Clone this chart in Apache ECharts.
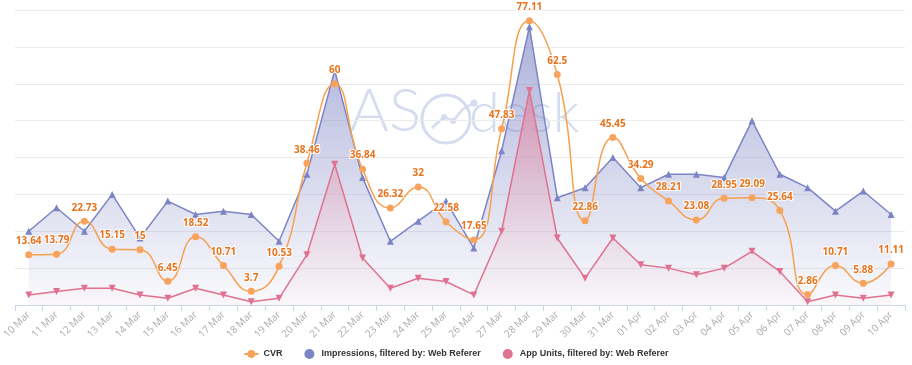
<!DOCTYPE html>
<html>
<head>
<meta charset="utf-8">
<script src="https://cdn.jsdelivr.net/npm/echarts@6/dist/echarts.min.js"></script>
<style>
html,body{margin:0;padding:0;background:#fff;}
#chart{width:912px;height:365px;}
</style>
</head>
<body>
<div id="chart"></div>
<script>
var categories = ['10 Mar','11 Mar','12 Mar','13 Mar','14 Mar','15 Mar','16 Mar','17 Mar','18 Mar','19 Mar','20 Mar','21 Mar','22 Mar','23 Mar','24 Mar','25 Mar','26 Mar','27 Mar','28 Mar','29 Mar','30 Mar','31 Mar','01 Apr','02 Apr','03 Apr','04 Apr','05 Apr','06 Apr','07 Apr','08 Apr','09 Apr','10 Apr'];
var cvr = [13.64,13.79,22.73,15.15,15,6.45,18.52,10.71,3.7,10.53,38.46,60,36.84,26.32,32,22.58,17.65,47.83,77.11,62.5,22.86,45.45,34.29,28.21,23.08,28.95,29.09,25.64,2.86,10.71,5.88,11.11];
var impressions = [22,29,22,33,20,31,27,28,27,19,39,70,38,19,25,31,17,46,83,32,35,44,35,39,39,38,55,39,35,28,34,27];
var appUnits = [3,4,5,5,3,2,5,3,1,2,15,42,14,5,8,7,3,22,64,20,8,20,12,11,9,11,16,10,1,3,2,3];
var seriesNames = ['CVR','Impressions, filtered by: Web Referer','App Units, filtered by: Web Referer'];

var chart = echarts.init(document.getElementById('chart'), null, {renderer:'canvas'});
var wm = '#d6dcef';
var option = {
  animation:false,
  textStyle:{fontFamily:'"Open Sans", "DejaVu Sans", sans-serif'},
  grid:{left:12,right:7,top:10,bottom:60,containLabel:false},
  graphic:[
    {type:'text',z:-1,style:{text:'AS',x:421,y:142,align:'right',verticalAlign:'bottom',font:'300 60px Lato, "Open Sans", sans-serif',fill:wm}},
    {type:'circle',z:-1,shape:{cx:446,cy:119,r:24},style:{fill:'none',stroke:wm,lineWidth:3}},
    {type:'polyline',z:-1,shape:{points:[[432,128],[444,117],[453,121],[463,109],[474,103]]},style:{fill:'none',stroke:wm,lineWidth:2.5}},
    {type:'circle',z:-1,shape:{cx:444,cy:117,r:3},style:{fill:wm}},
    {type:'circle',z:-1,shape:{cx:453,cy:121,r:3},style:{fill:wm}},
    {type:'circle',z:-1,shape:{cx:474,cy:103,r:3.5},style:{fill:wm}},
    {type:'text',z:-1,style:{text:'desk',x:469,y:142,align:'left',verticalAlign:'bottom',font:'300 56px Lato, "Open Sans", sans-serif',fill:wm}}
  ],
  legend:{
    bottom:1,left:'center',itemGap:22,itemWidth:14,itemHeight:10,
    textStyle:{color:'#333',fontSize:9,fontWeight:'bold',fontFamily:'"Liberation Sans", Arial, sans-serif'},
    data:[
      {name:seriesNames[0]},
      {name:seriesNames[1],icon:'circle'},
      {name:seriesNames[2],icon:'circle'}
    ]
  },
  xAxis:{
    type:'category',data:categories,boundaryGap:true,
    axisLine:{lineStyle:{color:'#ccd6eb'}},
    axisTick:{show:true,length:6,lineStyle:{color:'#ccd6eb'}},
    axisLabel:{rotate:45,color:'#ababab',fontSize:10,margin:8,interval:0}
  },
  yAxis:[
    {type:'value',min:0,max:80,interval:10,axisLabel:{show:false},axisLine:{show:false},axisTick:{show:false},splitLine:{lineStyle:{color:'#ebebeb'}}},
    {type:'value',min:0,max:88,interval:11,axisLabel:{show:false},axisLine:{show:false},axisTick:{show:false},splitLine:{show:false}}
  ],
  series:[
    {
      name:seriesNames[1],type:'line',yAxisIndex:1,data:impressions,z:1,
      symbol:'triangle',symbolSize:7,
      itemStyle:{color:'#7c84c4'},
      lineStyle:{color:'#7c84c4',width:1.5},
      areaStyle:{color:new echarts.graphic.LinearGradient(0,0,0,1,[{offset:0,color:'rgba(124,132,196,0.9)'},{offset:1,color:'rgba(124,132,196,0.05)'}])}
    },
    {
      name:seriesNames[2],type:'line',yAxisIndex:1,data:appUnits,z:2,
      symbol:'triangle',symbolRotate:180,symbolSize:7,
      itemStyle:{color:'#e0728f'},
      lineStyle:{color:'#e0728f',width:1.5},
      areaStyle:{color:new echarts.graphic.LinearGradient(0,0,0,1,[{offset:0,color:'rgba(226,118,146,0.9)'},{offset:1,color:'rgba(240,200,215,0.1)'}])}
    },
    {
      name:seriesNames[0],type:'line',yAxisIndex:0,data:cvr,z:3,smooth:0.5,
      symbol:'circle',symbolSize:7,
      itemStyle:{color:'#f7a35c'},
      lineStyle:{color:'#f7a04f',width:1.5},
      label:{show:true,position:'top',distance:5,color:'#e8731c',fontSize:10,fontWeight:'bold',textBorderColor:'#fff',textBorderWidth:2}
    }
  ]
};
chart.setOption(option);
</script>
</body>
</html>
